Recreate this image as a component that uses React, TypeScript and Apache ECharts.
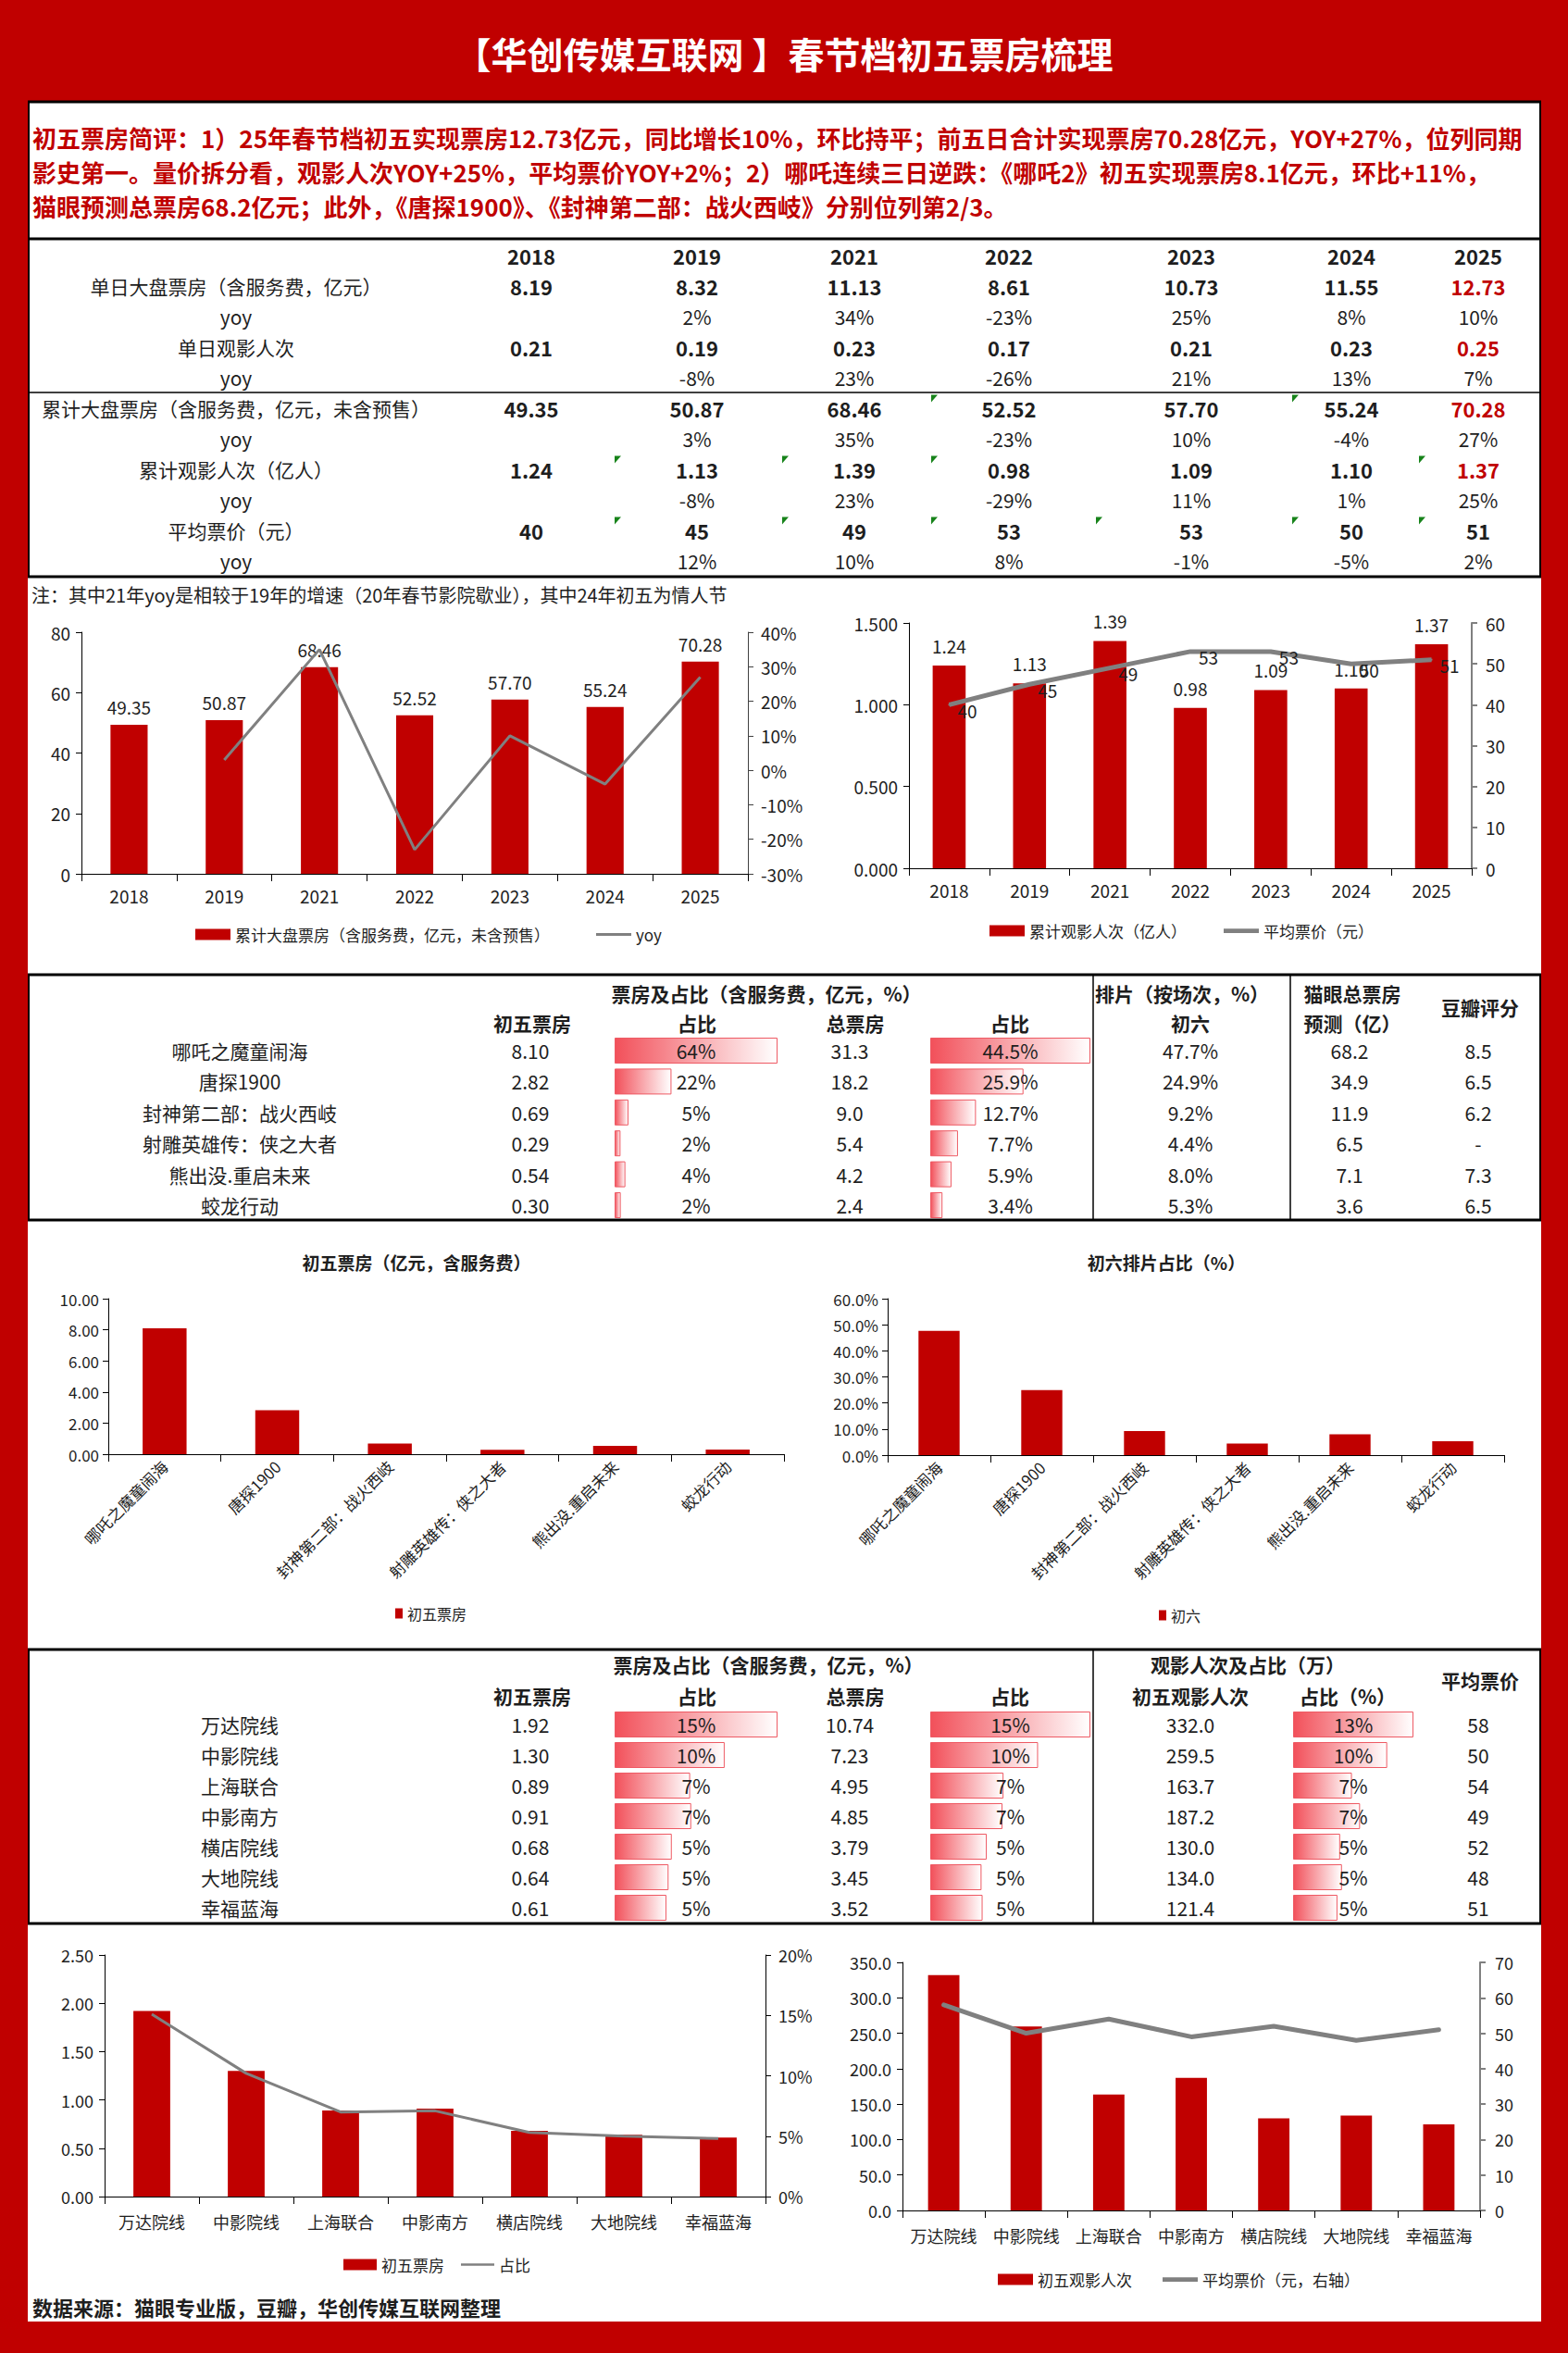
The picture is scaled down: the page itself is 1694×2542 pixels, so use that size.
import React, { useEffect, useRef } from 'react';
import * as echarts from 'echarts';

// ================= DATA =================
const TITLE = '【华创传媒互联网 】春节档初五票房梳理';
const COMMENTARY = [
  '初五票房简评：1）25年春节档初五实现票房12.73亿元，同比增长10%，环比持平；前五日合计实现票房70.28亿元，YOY+27%，位列同期',
  '影史第一。量价拆分看，观影人次YOY+25%，平均票价YOY+2%；2）哪吒连续三日逆跌：《哪吒2》初五实现票房8.1亿元，环比+11%，',
  '猫眼预测总票房68.2亿元；此外，《唐探1900》、《封神第二部：战火西岐》分别位列第2/3。',
];
const NOTE = '注：其中21年yoy是相较于19年的增速（20年春节影院歇业），其中24年初五为情人节';
const SOURCE = '数据来源：猫眼专业版，豆瓣，华创传媒互联网整理';

const years = ['2018', '2019', '2021', '2022', '2023', '2024', '2025'];
const dailyBox = [8.19, 8.32, 11.13, 8.61, 10.73, 11.55, 12.73];
const dailyBoxYoy = [null, 2, 34, -23, 25, 8, 10];
const dailyAud = [0.21, 0.19, 0.23, 0.17, 0.21, 0.23, 0.25];
const dailyAudYoy = [null, -8, 23, -26, 21, 13, 7];
const cumBox = [49.35, 50.87, 68.46, 52.52, 57.7, 55.24, 70.28];
const cumBoxYoy = [null, 3, 35, -23, 10, -4, 27];
const cumAud = [1.24, 1.13, 1.39, 0.98, 1.09, 1.1, 1.37];
const cumAudYoy = [null, -8, 23, -29, 11, 1, 25];
const avgPrice = [40, 45, 49, 53, 53, 50, 51];
const avgPriceYoy = [null, 12, 10, 8, -1, -5, 2];

const films = ['哪吒之魔童闹海', '唐探1900', '封神第二部：战火西岐', '射雕英雄传：侠之大者', '熊出没.重启未来', '蛟龙行动'];
const filmDay5 = [8.1, 2.82, 0.69, 0.29, 0.54, 0.3];
const filmDay5Share = [63.6, 22.2, 5.4, 2.3, 4.2, 2.4];
const filmTotal = [31.3, 18.2, 9.0, 5.4, 4.2, 2.4];
const filmTotalShare = [44.5, 25.9, 12.7, 7.7, 5.9, 3.4];
const filmDay6Schedule = [47.7, 24.9, 9.2, 4.4, 8.0, 5.3];
const filmForecast = [68.2, 34.9, 11.9, 6.5, 7.1, 3.6];
const filmDouban = ['8.5', '6.5', '6.2', '-', '7.3', '6.5'];

const chains = ['万达院线', '中影院线', '上海联合', '中影南方', '横店院线', '大地院线', '幸福蓝海'];
const chainDay5 = [1.92, 1.3, 0.89, 0.91, 0.68, 0.64, 0.61];
const chainDay5Share = [15.1, 10.2, 7.0, 7.1, 5.3, 5.0, 4.8];
const chainTotal = [10.74, 7.23, 4.95, 4.85, 3.79, 3.45, 3.52];
const chainTotalShare = [15.3, 10.3, 7.0, 6.9, 5.4, 4.9, 5.0];
const chainAud = [332.0, 259.5, 163.7, 187.2, 130.0, 134.0, 121.4];
const chainAudShare = [13.3, 10.4, 6.5, 7.4, 5.2, 5.4, 4.9];
const chainPrice = [58, 50, 54, 49, 52, 48, 51];

// Excel error-indicator flags in table 1: [row, column]
const t1Flags = [[4, 3], [4, 5], [6, 1], [6, 2], [6, 3], [6, 6], [8, 1], [8, 2], [8, 3], [8, 4], [8, 5], [8, 6]];

const t1Rows = [
  { label: '单日大盘票房（含服务费，亿元）', values: dailyBox, digits: 2, pct: false, redLast: true },
  { label: 'yoy', values: dailyBoxYoy, digits: 0, pct: true, redLast: false },
  { label: '单日观影人次', values: dailyAud, digits: 2, pct: false, redLast: true },
  { label: 'yoy', values: dailyAudYoy, digits: 0, pct: true, redLast: false },
  { label: '累计大盘票房（含服务费，亿元，未含预售）', values: cumBox, digits: 2, pct: false, redLast: true },
  { label: 'yoy', values: cumBoxYoy, digits: 0, pct: true, redLast: false },
  { label: '累计观影人次（亿人）', values: cumAud, digits: 2, pct: false, redLast: true },
  { label: 'yoy', values: cumAudYoy, digits: 0, pct: true, redLast: false },
  { label: '平均票价（元）', values: avgPrice, digits: 0, pct: false, redLast: false },
  { label: 'yoy', values: avgPriceYoy, digits: 0, pct: true, redLast: false },
];

// ================= STYLE =================
const FONT = "'Noto Sans CJK SC', 'Noto Sans', sans-serif";
const RED = '#C00000';
const GRAY = '#808080';
const INK = '#1e1e1e';
const LINE_THIN = 'path://M0,0H40V3H0Z';
const LINE_THICK = 'path://M0,0H40V5H0Z';
const BAR_GRAD = {
  type: 'linear', x: 0, y: 0, x2: 1, y2: 0,
  colorStops: [{ offset: 0, color: '#F2505A' }, { offset: 1, color: '#FFFFFF' }],
};

function buildOption() {
  const grid: any[] = [];
  const xAxis: any[] = [];
  const yAxis: any[] = [];
  const series: any[] = [];
  const legend: any[] = [];
  const g: any[] = [];

  const T = (x: number, y: number, s: string, o: any = {}) => {
    const align = o.align || 'center';
    g.push({
      type: 'text', x, y, z: 10, silent: true,
      style: {
        text: s, fill: o.fill || INK, fontSize: o.size || 21,
        fontWeight: o.bold ? 'bold' : 'normal', fontFamily: FONT,
        align, textAlign: align, verticalAlign: 'middle', textVerticalAlign: 'middle',
      },
    });
  };
  const L = (x1: number, y1: number, x2: number, y2: number, w = 1, c = '#000') => {
    g.push({ type: 'line', z: 9, silent: true, shape: { x1, y1, x2, y2 }, style: { stroke: c, lineWidth: w } });
  };

  const catAxis = (gi: number, data: string[], o: any = {}) => ({
    type: 'category', gridIndex: gi, data, boundaryGap: true,
    axisLine: { show: true, onZero: false, lineStyle: { color: '#000', width: 1 } },
    axisTick: { show: true, length: 8, alignWithLabel: false, lineStyle: { color: '#000' } },
    axisLabel: { interval: 0, rotate: o.rotate || 0, fontSize: o.size || 19, color: INK, margin: o.margin || 14, fontFamily: FONT },
    splitLine: { show: false },
  });
  const valAxis = (gi: number, min: number, max: number, interval: number, fmt: any, o: any = {}) => ({
    type: 'value', gridIndex: gi, min, max, interval, position: o.right ? 'right' : 'left',
    axisLine: { show: true, onZero: false, lineStyle: { color: o.color || '#000', width: o.w || 1 } },
    axisTick: { show: true, length: 6, lineStyle: { color: o.color || '#000', width: o.w || 1 } },
    axisLabel: { formatter: fmt, fontSize: o.size || 19, color: INK, margin: o.margin || 12, fontFamily: FONT },
    splitLine: { show: false },
  });
  const legendOf = (left: number, top: number, data: any[], o: any = {}) => ({
    left, top, orient: 'horizontal', selectedMode: false,
    itemWidth: o.iw || 38, itemHeight: o.ih || 12, itemGap: o.gap || 40,
    textStyle: { fontSize: o.size || 17, color: INK, fontFamily: FONT },
    data,
  });

  // ---------- frame ----------
  g.push({ type: 'rect', z: -5, silent: true, shape: { x: 30, y: 110, width: 1635, height: 2398 }, style: { fill: '#fff' } });
  T(847, 57, TITLE, { size: 39, bold: true, fill: '#fff' });
  COMMENTARY.forEach((line, i) => T(35, 148 + i * 37, line, { size: 26, bold: true, fill: RED, align: 'left' }));

  const HL = [[110, 3], [258, 3], [424, 1.5], [623, 3], [1053, 3], [1318, 3], [1782, 3], [2078, 3]];
  HL.forEach(([y, w]) => L(30, y, 1665, y, w));
  [[110, 623], [1053, 1318], [1782, 2078]].forEach(([a, b]) => {
    L(31, a, 31, b, 2);
    L(1664, a, 1664, b, 2);
  });

  // ---------- table 1 ----------
  const T1 = { labelX: 255, cols: [574, 753, 923, 1090, 1287, 1460, 1597], headerY: 276, row0: 309, rowH: 33 };
  const flagEdges = [0, 664, 845, 1006, 1184, 1396, 1533];
  years.forEach((y, i) => T(T1.cols[i], T1.headerY, y, { bold: true, size: 22 }));
  t1Rows.forEach((r, ri) => {
    const y = T1.row0 + ri * T1.rowH;
    T(T1.labelX, y, r.label, { size: 21 });
    r.values.forEach((v: any, ci: number) => {
      if (v == null) return;
      const s = r.pct ? `${v}%` : v.toFixed(r.digits);
      T(T1.cols[ci], y, s, {
        size: r.pct ? 21 : 22, bold: !r.pct,
        fill: r.redLast && ci === r.values.length - 1 ? RED : INK,
      });
    });
  });
  t1Flags.forEach(([ri, ci]) => {
    const x = flagEdges[ci];
    const y = T1.row0 + ri * T1.rowH - T1.rowH / 2 + 2;
    g.push({ type: 'polygon', z: 9, silent: true, shape: { points: [[x, y], [x + 7, y], [x, y + 8]] }, style: { fill: '#17831A' } });
  });
  T(34, 642, NOTE, { size: 20, align: 'left' });

  // ---------- chart 1 ----------
  const S1_BAR = '累计大盘票房（含服务费，亿元，未含预售）';
  grid.push({ left: 88, top: 683, width: 720, height: 261 });
  xAxis.push(catAxis(0, years));
  yAxis.push(valAxis(0, 0, 80, 20, '{value}'));
  yAxis.push(valAxis(0, -30, 40, 10, '{value}%', { right: true, color: '#404040', margin: 14 }));
  series.push({
    type: 'bar', name: S1_BAR, xAxisIndex: 0, yAxisIndex: 0, data: cumBox, barWidth: '39%',
    itemStyle: { color: RED },
    label: { show: true, position: 'top', distance: 10, fontSize: 19, color: INK, fontFamily: FONT, formatter: (p: any) => cumBox[p.dataIndex].toFixed(2) },
  });
  series.push({
    type: 'line', name: 'yoy', xAxisIndex: 0, yAxisIndex: 1, data: cumBoxYoy, symbol: 'none',
    lineStyle: { color: GRAY, width: 3 }, itemStyle: { color: GRAY }, z: 3,
  });
  legend.push(legendOf(206, 996, [{ name: S1_BAR, icon: 'rect' }, { name: 'yoy', icon: LINE_THIN }], { gap: 50 }));

  // ---------- chart 2 ----------
  const S2_BAR = '累计观影人次（亿人）';
  const S2_LINE = '平均票价（元）';
  grid.push({ left: 982, top: 673, width: 608, height: 265 });
  xAxis.push(catAxis(1, years));
  yAxis.push(valAxis(1, 0, 1.5, 0.5, (v: number) => v.toFixed(3)));
  yAxis.push(valAxis(1, 0, 60, 10, '{value}', { right: true, color: GRAY, w: 2, margin: 15 }));
  series.push({
    type: 'bar', name: S2_BAR, xAxisIndex: 1, yAxisIndex: 2, data: cumAud, barWidth: '41%',
    itemStyle: { color: RED },
    label: { show: true, position: 'top', distance: 12, fontSize: 19, color: INK, fontFamily: FONT, formatter: (p: any) => cumAud[p.dataIndex].toFixed(2) },
  });
  series.push({
    type: 'line', name: S2_LINE, xAxisIndex: 1, yAxisIndex: 3, data: avgPrice, symbol: 'circle', symbolSize: 2,
    lineStyle: { color: GRAY, width: 5 }, itemStyle: { color: GRAY }, z: 3,
    label: { show: true, position: 'right', distance: 8, offset: [0, 6], fontSize: 19, color: INK, fontFamily: FONT, formatter: (p: any) => String(avgPrice[p.dataIndex]) },
  });
  legend.push(legendOf(1064, 992, [{ name: S2_BAR, icon: 'rect' }, { name: S2_LINE, icon: LINE_THICK }], { gap: 40 }));

  // ---------- table 2 ----------
  const T2 = { nameX: 259, day5X: 573, bar1: [664, 840], totalX: 918, bar2: [1005, 1178], schedX: 1286, fcX: 1458, dbX: 1597, row0: 1135, rowH: 33.4 };
  T(828, 1073, '票房及占比（含服务费，亿元，%）', { bold: true });
  T(1277, 1073, '排片（按场次，%）', { bold: true });
  T(1461, 1073, '猫眼总票房', { bold: true });
  T(1599, 1088, '豆瓣评分', { bold: true });
  [['初五票房', 575], ['占比', 753], ['总票房', 924], ['占比', 1091], ['初六', 1286], ['预测（亿）', 1461]].forEach(([s, x]: any) => T(x, 1105, s, { bold: true }));
  L(1181, 1053, 1181, 1318, 1.5);
  L(1394, 1053, 1394, 1318, 1.5);
  films.forEach((f, i) => {
    const y = T2.row0 + i * T2.rowH;
    T(T2.nameX, y, f);
    T(T2.day5X, y, filmDay5[i].toFixed(2));
    T(T2.totalX, y, filmTotal[i].toFixed(1));
    T(T2.schedX, y, filmDay6Schedule[i].toFixed(1) + '%');
    T(T2.fcX, y, filmForecast[i].toFixed(1));
    T(T2.dbX, y, filmDouban[i]);
  });

  const tableBar = (name: string, cats: string[], vals: number[], cell: number[], row0: number, rowH: number, fmt: (v: number) => string) => {
    const gi = grid.length;
    grid.push({ left: cell[0], width: cell[1] - cell[0], top: row0 - rowH / 2, height: rowH * vals.length });
    const xi = xAxis.length;
    xAxis.push({ type: 'value', gridIndex: gi, min: 0, max: Math.max(...vals), show: false, splitLine: { show: false } });
    const yi = yAxis.length;
    yAxis.push({ type: 'category', gridIndex: gi, data: cats, inverse: true, show: false });
    series.push({
      type: 'bar', name, xAxisIndex: xi, yAxisIndex: yi, data: vals, barWidth: 28, silent: true,
      itemStyle: { color: BAR_GRAD, borderColor: '#EE5A64', borderWidth: 1 },
    });
    vals.forEach((v, i) => T((cell[0] + cell[1]) / 2, row0 + i * rowH, fmt(v)));
  };

  // ---------- chart 3 ----------
  T(450, 1363, '初五票房（亿元，含服务费）', { bold: true, size: 19 });
  grid.push({ left: 117, top: 1403, width: 730, height: 168 });
  xAxis.push(catAxis(2, films, { rotate: 45, size: 17, margin: 10 }));
  yAxis.push(valAxis(2, 0, 10, 2, (v: number) => v.toFixed(2), { size: 17, margin: 10 }));
  series.push({ type: 'bar', name: '初五票房', xAxisIndex: 2, yAxisIndex: 4, data: filmDay5, barWidth: '39%', itemStyle: { color: RED } });
  legend.push(legendOf(422, 1730, [{ name: '初五票房', icon: 'rect' }], { iw: 8, ih: 11, size: 16 }));

  // ---------- chart 4 ----------
  T(1260, 1363, '初六排片占比（%）', { bold: true, size: 19 });
  grid.push({ left: 959, top: 1403, width: 666, height: 169 });
  xAxis.push(catAxis(3, films, { rotate: 45, size: 17, margin: 10 }));
  yAxis.push(valAxis(3, 0, 60, 10, (v: number) => v.toFixed(1) + '%', { size: 17, margin: 10 }));
  series.push({ type: 'bar', name: '初六', xAxisIndex: 3, yAxisIndex: 5, data: filmDay6Schedule, barWidth: '40%', itemStyle: { color: RED } });
  legend.push(legendOf(1247, 1732, [{ name: '初六', icon: 'rect' }], { iw: 8, ih: 11, size: 16 }));

  // ---------- chart 5 ----------
  grid.push({ left: 113, top: 2112, width: 714, height: 261 });
  xAxis.push(catAxis(4, chains, { size: 18, margin: 18 }));
  yAxis.push(valAxis(4, 0, 2.5, 0.5, (v: number) => v.toFixed(2), { size: 18 }));
  yAxis.push(valAxis(4, 0, 20, 5, '{value}%', { right: true, size: 18, margin: 14 }));
  series.push({ type: 'bar', name: '初五票房', xAxisIndex: 4, yAxisIndex: 6, data: chainDay5, barWidth: '39%', itemStyle: { color: RED } });
  series.push({ type: 'line', name: '占比', xAxisIndex: 4, yAxisIndex: 7, data: chainDay5Share, symbol: 'none', lineStyle: { color: GRAY, width: 3 }, itemStyle: { color: GRAY }, z: 3 });
  legend.push(legendOf(366, 2433, [{ name: '初五票房', icon: 'rect' }, { name: '占比', icon: LINE_THIN }], { iw: 36, gap: 18 }));

  // ---------- chart 6 ----------
  const S6_BAR = '初五观影人次';
  const S6_LINE = '平均票价（元，右轴）';
  grid.push({ left: 975, top: 2120, width: 624, height: 268 });
  xAxis.push(catAxis(5, chains, { size: 18, margin: 18 }));
  yAxis.push(valAxis(5, 0, 350, 50, (v: number) => v.toFixed(1), { size: 18 }));
  yAxis.push(valAxis(5, 0, 70, 10, '{value}', { right: true, color: GRAY, w: 2, size: 18, margin: 16 }));
  series.push({ type: 'bar', name: S6_BAR, xAxisIndex: 5, yAxisIndex: 8, data: chainAud, barWidth: '38%', itemStyle: { color: RED } });
  series.push({ type: 'line', name: S6_LINE, xAxisIndex: 5, yAxisIndex: 9, data: chainPrice, symbol: 'none', lineStyle: { color: GRAY, width: 5, cap: 'round' }, itemStyle: { color: GRAY }, z: 3 });
  legend.push(legendOf(1073, 2449, [{ name: S6_BAR, icon: 'rect' }, { name: S6_LINE, icon: LINE_THICK }], { gap: 33 }));

  // ---------- table-2 data bars ----------
  tableBar('t2a', films, filmDay5Share, T2.bar1, T2.row0, T2.rowH, (v) => Math.round(v) + '%');
  tableBar('t2b', films, filmTotalShare, T2.bar2, T2.row0, T2.rowH, (v) => v.toFixed(1) + '%');

  // ---------- table 3 ----------
  const T3 = { nameX: 259, day5X: 573, bar1: [664, 840], totalX: 918, bar2: [1005, 1178], audX: 1286, bar3: [1397, 1527], priceX: 1597, row0: 1863, rowH: 33 };
  T(830, 1798, '票房及占比（含服务费，亿元，%）', { bold: true });
  T(1348, 1798, '观影人次及占比（万）', { bold: true });
  T(1599, 1815, '平均票价', { bold: true });
  [['初五票房', 575], ['占比', 753], ['总票房', 924], ['占比', 1091], ['初五观影人次', 1286], ['占比（%）', 1456]].forEach(([s, x]: any) => T(x, 1832, s, { bold: true }));
  L(1181, 1782, 1181, 2078, 1.5);
  chains.forEach((c, i) => {
    const y = T3.row0 + i * T3.rowH;
    T(T3.nameX, y, c);
    T(T3.day5X, y, chainDay5[i].toFixed(2));
    T(T3.totalX, y, chainTotal[i].toFixed(2));
    T(T3.audX, y, chainAud[i].toFixed(1));
    T(T3.priceX, y, String(chainPrice[i]));
  });
  tableBar('t3a', chains, chainDay5Share, T3.bar1, T3.row0, T3.rowH, (v) => Math.round(v) + '%');
  tableBar('t3b', chains, chainTotalShare, T3.bar2, T3.row0, T3.rowH, (v) => Math.round(v) + '%');
  tableBar('t3c', chains, chainAudShare, T3.bar3, T3.row0, T3.rowH, (v) => Math.round(v) + '%');

  T(35, 2492, SOURCE, { bold: true, size: 22, align: 'left' });

  return {
    animation: false,
    backgroundColor: RED,
    textStyle: { fontFamily: FONT },
    tooltip: { show: false },
    grid, xAxis, yAxis, series, legend,
    graphic: { elements: g },
  };
}

export default function App() {
  const ref = useRef<HTMLDivElement>(null);
  useEffect(() => {
    const chart = echarts.init(ref.current as HTMLDivElement, undefined, { renderer: 'svg', width: 1694, height: 2542 });
    chart.setOption(buildOption() as any);
    return () => chart.dispose();
  }, []);
  return <div ref={ref} style={{ position: 'absolute', left: 0, top: 0, width: 1694, height: 2542 }} />;
}
